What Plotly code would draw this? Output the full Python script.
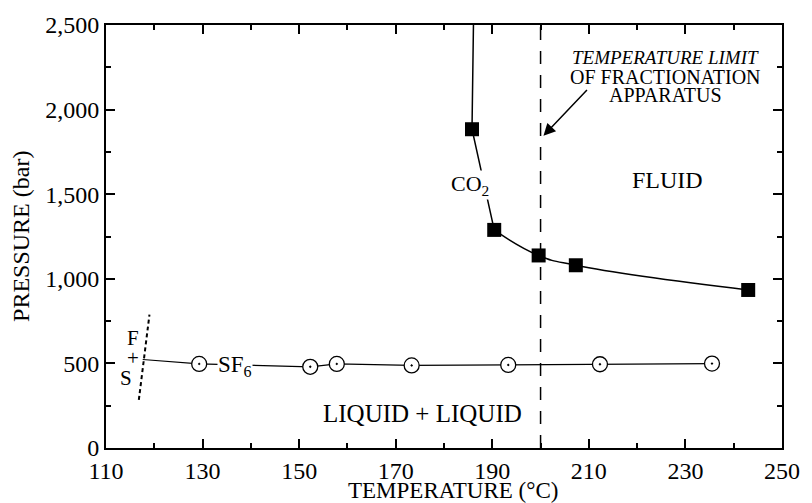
import plotly.graph_objects as go

# ---- data ----
sf6_T = [129.3, 152.3, 157.8, 173.3, 193.3, 212.3, 235.5]
sf6_P = [497, 480, 497, 488, 491, 495, 499]
sf6_start_T = [117.6]
sf6_start_P = [523]

co2_T = [185.8, 190.4, 199.6, 207.3, 243.0]
co2_P = [1884, 1289, 1138, 1080, 934]
co2_top_T = [186.1]
co2_top_P = [2500]

fs_T = [116.8, 119.0]
fs_P = [284, 788]

temp_limit = 200
x_range = [110, 250]
y_range = [0, 2500]

FONT = "Liberation Serif"

fig = go.Figure()

# F+S boundary (dashed)
fig.add_trace(go.Scatter(x=fs_T, y=fs_P, mode="lines",
                         line=dict(color="black", width=2, dash="4px,3px"),
                         hoverinfo="skip", showlegend=False))

# temperature limit (vertical dashed)
fig.add_trace(go.Scatter(x=[temp_limit, temp_limit], y=y_range, mode="lines",
                         line=dict(color="black", width=1.5, dash="13px,11px"),
                         hoverinfo="skip", showlegend=False))

# CO2 curve: nearly straight steep part, smooth lower part
fig.add_trace(go.Scatter(x=co2_top_T + co2_T[:2], y=co2_top_P + co2_P[:2], mode="lines",
                         line=dict(color="black", width=1.5),
                         hoverinfo="skip", showlegend=False))
fig.add_trace(go.Scatter(x=co2_T[1:], y=co2_P[1:], mode="lines",
                         line=dict(color="black", width=1.5, shape="spline", smoothing=1.3),
                         hoverinfo="skip", showlegend=False))

# SF6 line + markers
fig.add_trace(go.Scatter(x=sf6_start_T + sf6_T, y=sf6_start_P + sf6_P, mode="lines",
                         line=dict(color="black", width=1.2),
                         hoverinfo="skip", showlegend=False))
fig.add_trace(go.Scatter(x=sf6_T, y=sf6_P, mode="markers",
                         marker=dict(symbol="circle-dot", size=15, color="white",
                                     line=dict(color="black", width=1.3)),
                         showlegend=False))

# CO2 squares
fig.add_trace(go.Scatter(x=co2_T, y=co2_P, mode="markers",
                         marker=dict(symbol="square", size=14, color="black"),
                         showlegend=False))

ann = []
def txt(x, y, s, size=22, xanchor="center", bg=None, **kw):
    d = dict(x=x, y=y, text=s, showarrow=False, xanchor=xanchor, yanchor="middle",
             font=dict(family=FONT, size=size, color="black"))
    if bg:
        d.update(bgcolor=bg, borderpad=0)
    d.update(kw)
    ann.append(d)

txt(226.3, 1581, "FLUID", size=24)
txt(175.6, 202, "LIQUID + LIQUID", size=25)
txt(133.0, 484, "SF<sub>6</sub>", size=23, xanchor="left", bg="white")
txt(181.3, 1555, "CO<sub>2</sub>", size=22, xanchor="left", bg="white")
txt(115.5, 653, "F", size=21)
txt(115.5, 529, "+", size=21)
txt(114.1, 415, "S", size=21)
txt(225.9, 2309, "<i>TEMPERATURE LIMIT</i>", size=19)
txt(225.9, 2193, "OF FRACTIONATION", size=20)
txt(225.9, 2086, "APPARATUS", size=20)

# arrow
ann.append(dict(x=200.6, y=1845, ax=209.9, ay=2125, axref="x", ayref="y",
                xref="x", yref="y", text="", showarrow=True,
                arrowhead=2, arrowsize=1.6, arrowwidth=1.5, arrowcolor="black"))

# axis titles
ann.append(dict(x=0.514, y=-0.1, xref="paper", yref="paper", text="TEMPERATURE (°C)",
                showarrow=False, xanchor="center", yanchor="middle",
                font=dict(family=FONT, size=23, color="black")))
ann.append(dict(x=-0.1257, y=0.499, xref="paper", yref="paper", text="PRESSURE (bar)",
                showarrow=False, xanchor="center", yanchor="middle", textangle=-90,
                font=dict(family=FONT, size=24, color="black")))

axis_common = dict(showline=True, linecolor="black", linewidth=2, mirror="ticks",
                   ticks="inside", ticklen=9, tickwidth=1.5, tickcolor="black",
                   showgrid=False, zeroline=False,
                   tickfont=dict(family=FONT, size=24, color="black"))

fig.update_layout(
    width=812, height=503,
    margin=dict(l=106, r=22, t=19, b=55),
    plot_bgcolor="white", paper_bgcolor="white",
    xaxis=dict(range=x_range, dtick=20, tick0=110,
               minor=dict(dtick=10, ticklen=5, tickwidth=1.5, tickcolor="black", ticks="inside"),
               **axis_common),
    yaxis=dict(range=y_range, dtick=500, tickformat=",",
               minor=dict(dtick=250, ticklen=5, tickwidth=1.5, tickcolor="black", ticks="inside"),
               **axis_common),
    annotations=ann,
    showlegend=False,
)

fig.write_html("out.html")
